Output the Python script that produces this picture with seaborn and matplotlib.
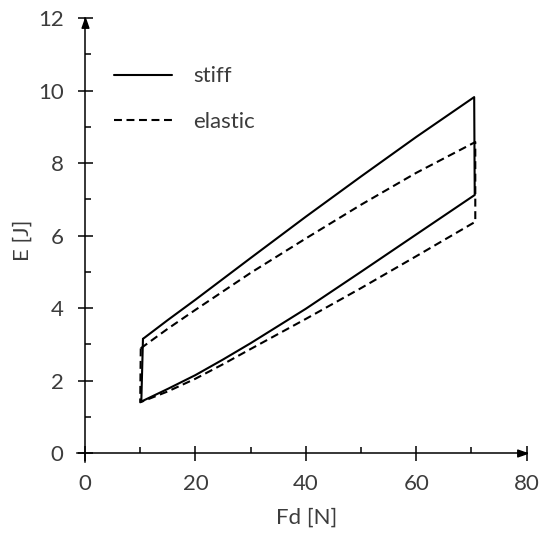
import matplotlib
import matplotlib.pyplot as plt
import pandas as pd
import seaborn as sns

matplotlib.use("Agg")

# branch readings (Fd in N, E in J)
stiff_up_fd = [10.5, 15, 20, 30, 40, 50, 60, 70.5]
stiff_up_e = [3.15, 3.67, 4.23, 5.38, 6.52, 7.63, 8.72, 9.82]
stiff_lo_fd = [10.2, 15, 20, 25, 30, 40, 50, 60, 70.6]
stiff_lo_e = [1.42, 1.77, 2.15, 2.58, 3.03, 3.98, 5.0, 6.03, 7.12]

elastic_up_fd = [10.1, 15, 20, 30, 40, 50, 60, 70.7]
elastic_up_e = [2.89, 3.43, 3.95, 4.97, 5.92, 6.85, 7.73, 8.58]
elastic_lo_fd = [10.0, 15, 20, 25, 30, 40, 50, 60, 70.7]
elastic_lo_e = [1.40, 1.70, 2.05, 2.45, 2.87, 3.70, 4.55, 5.43, 6.38]

x_major = [0, 20, 40, 60, 80]
x_minor = [10, 30, 50, 70]
y_major = [0, 2, 4, 6, 8, 10, 12]
y_minor = [1, 3, 5, 7, 9, 11]

TEXT = "#3c3c3c"
FONT = ["Lato", "DejaVu Sans"]
FS = 16


def loop(up_fd, up_e, lo_fd, lo_e, name):
    # upper branch out, lower branch back, close at the start
    fd = list(up_fd) + list(lo_fd)[::-1] + [up_fd[0]]
    e = list(up_e) + list(lo_e)[::-1] + [up_e[0]]
    return pd.DataFrame({"Fd": fd, "E": e, "case": name})


sns.set_style("white")
plt.rcParams["font.family"] = FONT

fig = plt.figure(figsize=(5.5, 5.43), dpi=100)
ax = fig.add_axes([0.1395, 0.149, 0.818, 0.8177])

stiff = loop(stiff_up_fd, stiff_up_e, stiff_lo_fd, stiff_lo_e, "stiff")
elastic = loop(elastic_up_fd, elastic_up_e, elastic_lo_fd, elastic_lo_e, "elastic")

sns.lineplot(data=stiff, x="Fd", y="E", sort=False, estimator=None,
             color="black", lw=1.5, label="stiff", ax=ax)
sns.lineplot(data=elastic, x="Fd", y="E", sort=False, estimator=None,
             color="black", lw=1.5, label="elastic", ax=ax)
ax.lines[1].set_dashes((3.8, 2.2))

ax.set_xlim(-1.5, 80)
ax.set_ylim(-0.25, 12)

for side in ["top", "right"]:
    ax.spines[side].set_visible(False)
ax.spines["left"].set_position(("data", 0))
ax.spines["bottom"].set_position(("data", 0))
for side in ["left", "bottom"]:
    ax.spines[side].set_color("black")
    ax.spines[side].set_linewidth(1.1)

ax.set_xticks(x_major)
ax.set_xticks(x_minor, minor=True)
ax.set_yticks(y_major)
ax.set_yticks(y_minor, minor=True)
ax.tick_params(which="major", direction="inout", length=10.8, width=1.1,
               color="black", labelsize=FS, labelcolor=TEXT, pad=10)
ax.tick_params(which="minor", direction="in", length=4.3, width=1.1,
               color="black")
ax.tick_params(left=True, bottom=True, which="both")

# arrow heads at the axis ends
tri_up = [(0, 0), (-0.35, -1), (0.35, -1), (0, 0)]
tri_right = [(0, 0), (-1, 0.35), (-1, -0.35), (0, 0)]
ax.plot([0], [12], marker=tri_up, ms=14, color="black", clip_on=False)
ax.plot([80], [0], marker=tri_right, ms=14, color="black", clip_on=False)

ax.set_xlabel("Fd [N]", fontsize=FS, color=TEXT)
ax.set_ylabel("E [J]", fontsize=FS, color=TEXT)
ax.xaxis.set_label_coords(0.511, -0.1036)
ax.yaxis.set_label_coords(-0.099, 0.50)

leg = ax.legend(loc="upper left", bbox_to_anchor=(0.083, 0.891), frameon=False,
                borderpad=0, borderaxespad=0, handlelength=2.6,
                handletextpad=0.95, labelspacing=1.15, fontsize=FS)
for t in leg.get_texts():
    t.set_color(TEXT)

fig.savefig("out.png", dpi=100)
